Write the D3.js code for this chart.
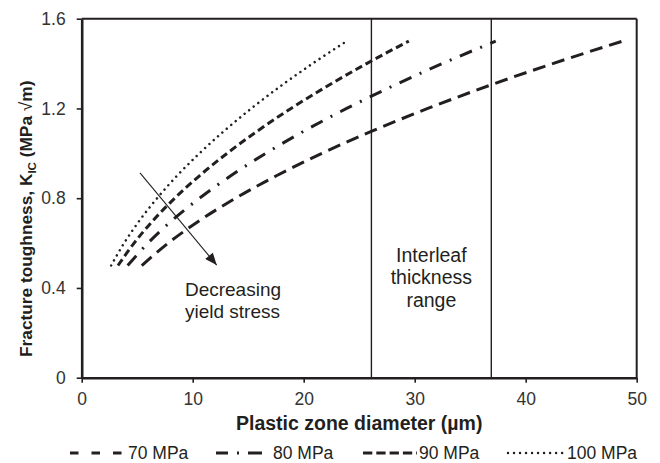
<!DOCTYPE html>
<html>
<head>
<meta charset="utf-8">
<script src="https://cdn.jsdelivr.net/npm/d3@7"></script>
<style>
  body { margin: 0; background: #fff; }
  text { font-family: "Liberation Sans", Arial, sans-serif; fill: #231f20; }
</style>
</head>
<body>
<div id="chart"></div>
<script>
// fracture toughness values (MPa sqrt m) shared by every curve
const kValues = [0.5, 0.6, 0.7, 0.8, 0.9, 1.0, 1.1, 1.2, 1.3, 1.4, 1.5];
// plastic zone diameter (um) read for each yield stress
const dia70 = [5.41, 7.80, 10.61, 13.86, 17.54, 21.65, 26.20, 31.18, 36.59, 42.44, 48.72];
const dia80 = [4.14, 5.97, 8.12, 10.61, 13.43, 16.58, 20.06, 23.87, 28.02, 32.49, 37.30];
const dia90 = [3.27, 4.72, 6.42, 8.38, 10.61, 13.10, 15.85, 18.86, 22.14, 25.67, 29.47];
const dia100 = [2.65, 3.82, 5.20, 6.79, 8.59, 10.61, 12.84, 15.28, 17.93, 20.80, 23.87];
const seriesNames = ["70 MPa", "80 MPa", "90 MPa", "100 MPa"];

const xTicks = [0, 10, 20, 30, 40, 50];
const yTicks = [0, 0.4, 0.8, 1.2, 1.6];
const yTickLabels = ["0", "0.4", "0.8", "1.2", "1.6"];
const interleafRange = [26.1, 36.9];

const W = 660, H = 463;
const MARGIN = { TOP: 18.7, RIGHT: 23.3, BOTTOM: 85.3, LEFT: 81.7 };
const WIDTH = W - MARGIN.LEFT - MARGIN.RIGHT;
const HEIGHT = H - MARGIN.TOP - MARGIN.BOTTOM;
const INK = "#231f20";

// line styles per series (plot and legend sample)
const styles = [
  { dash: "13,7", cap: "butt", width: 3, legDash: "8.5,13", legX: [70, 123], textX: 128 },
  { dash: "13,9,2,9", cap: "butt", width: 3, legDash: "12,9,2,9,14", legX: [216, 262], textX: 273 },
  { dash: "7.5,4", cap: "butt", width: 3, legDash: "9.3,4", legX: [363, 417], textX: 419 },
  { dash: "0.01,5.8", cap: "round", width: 2.5, legDash: "0.01,6", legX: [508, 563], textX: 567 },
];

const series = [dia70, dia80, dia90, dia100].map((dia, i) => ({
  name: seriesNames[i],
  points: dia.map((d, j) => ({ x: d, y: kValues[j] })),
  style: styles[i],
}));

const x = d3.scaleLinear().domain([0, 50]).range([0, WIDTH]);
const y = d3.scaleLinear().domain([0, 1.6]).range([HEIGHT, 0]);

const root = d3.select("#chart").append("svg")
  .attr("width", W).attr("height", H);

const svg = root.append("g")
  .attr("transform", `translate(${MARGIN.LEFT},${MARGIN.TOP})`);

// arrow marker
root.append("defs").append("marker")
  .attr("id", "arrow")
  .attr("markerUnits", "userSpaceOnUse")
  .attr("viewBox", "0 0 12 10")
  .attr("refX", 12).attr("refY", 5)
  .attr("markerWidth", 13).attr("markerHeight", 10)
  .attr("orient", "auto")
  .append("path").attr("d", "M0,0 L12,5 L0,10 Z").attr("fill", INK);

// frame: top and right
svg.append("line").attr("x1", 0).attr("x2", WIDTH).attr("y1", 0).attr("y2", 0)
  .attr("stroke", INK).attr("stroke-width", 2);
svg.append("line").attr("x1", WIDTH).attr("x2", WIDTH).attr("y1", 0).attr("y2", HEIGHT)
  .attr("stroke", INK).attr("stroke-width", 2);

// interleaf thickness range lines
svg.selectAll(".range").data(interleafRange).enter().append("line")
  .attr("class", "range")
  .attr("x1", d => x(d)).attr("x2", d => x(d))
  .attr("y1", 0).attr("y2", HEIGHT)
  .attr("stroke", INK).attr("stroke-width", 1.4);

const line = d3.line().x(d => x(d.x)).y(d => y(d.y)).curve(d3.curveMonotoneX);

svg.selectAll(".curve").data(series).enter().append("path")
  .attr("class", "curve")
  .attr("d", d => line(d.points))
  .attr("fill", "none")
  .attr("stroke", INK)
  .attr("stroke-width", d => d.style.width)
  .attr("stroke-dasharray", d => d.style.dash)
  .attr("stroke-linecap", d => d.style.cap);

// axes
const xAxis = svg.append("g")
  .attr("transform", `translate(0,${HEIGHT})`)
  .call(d3.axisBottom(x).tickValues(xTicks).tickSize(5).tickSizeOuter(0).tickPadding(10));
const yAxis = svg.append("g")
  .call(d3.axisLeft(y).tickValues(yTicks).tickSize(5).tickSizeOuter(0).tickPadding(11)
    .tickFormat((d, i) => yTickLabels[i]));

[xAxis, yAxis].forEach(g => {
  g.select(".domain").attr("stroke", INK).attr("stroke-width", 2.6);
  g.selectAll(".tick line").attr("stroke", INK).attr("stroke-width", 1.6);
  g.selectAll(".tick text").style("font-size", "17.5px").style("fill", "#333")
    .style("font-family", "'Liberation Sans', Arial, sans-serif");
});

// arrow annotation
svg.append("line")
  .attr("x1", x(5.25)).attr("y1", y(0.913))
  .attr("x2", x(12.16)).attr("y2", y(0.502))
  .attr("stroke", INK).attr("stroke-width", 1.1)
  .attr("marker-end", "url(#arrow)");

const decText = svg.append("text")
  .attr("x", x(9.3)).attr("y", y(0.364))
  .style("font-size", "19px");
decText.append("tspan").attr("x", x(9.3)).text("Decreasing");
decText.append("tspan").attr("x", x(9.3)).attr("dy", 21.5).text("yield stress");

const rangeText = svg.append("text")
  .attr("text-anchor", "middle")
  .attr("y", y(0.517))
  .style("font-size", "19.5px");
["Interleaf", "thickness", "range"].forEach((t, i) => {
  rangeText.append("tspan")
    .attr("x", x((interleafRange[0] + interleafRange[1]) / 2))
    .attr("dy", i === 0 ? 0 : 22.5)
    .text(t);
});

// axis titles
root.append("text")
  .attr("x", MARGIN.LEFT + WIDTH / 2).attr("y", 430)
  .attr("text-anchor", "middle")
  .style("font-size", "19.5px").style("font-weight", "bold")
  .text("Plastic zone diameter (µm)");

const yTitle = root.append("text")
  .attr("transform", "translate(31.5,357) rotate(-90)")
  .attr("text-anchor", "start")
  .style("font-size", "17.3px").style("font-weight", "bold");
yTitle.append("tspan").text("Fracture toughness, K");
yTitle.append("tspan").attr("dy", 4).style("font-size", "11.5px").text("IC");
yTitle.append("tspan").attr("dy", -4).text(" (MPa ");
yTitle.append("tspan").style("font-weight", "normal").text("√");
yTitle.append("tspan").text("m)");

// legend
const legendY = 453;
const leg = root.append("g").attr("class", "legend");
series.forEach(s => {
  leg.append("line")
    .attr("x1", s.style.legX[0]).attr("x2", s.style.legX[1])
    .attr("y1", legendY).attr("y2", legendY)
    .attr("stroke", INK).attr("stroke-width", s.style.width)
    .attr("stroke-dasharray", s.style.legDash)
    .attr("stroke-linecap", s.style.cap);
  leg.append("text")
    .attr("x", s.style.textX).attr("y", legendY + 6)
    .style("font-size", "17.5px")
    .text(s.name);
});
</script>
</body>
</html>
